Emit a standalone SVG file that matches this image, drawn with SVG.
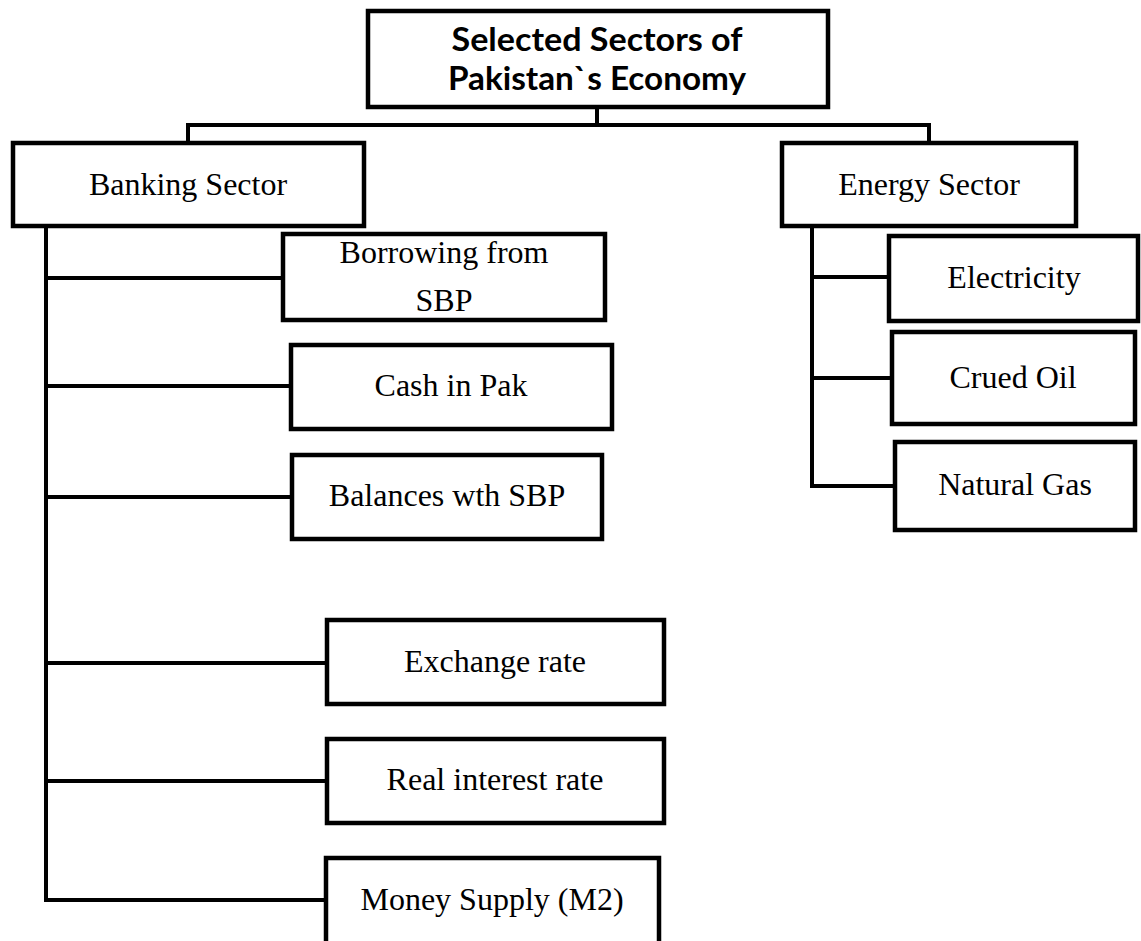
<svg xmlns="http://www.w3.org/2000/svg" width="1141" height="941" viewBox="0 0 1141 941">
<style>
.box{fill:#fff;stroke:#000;stroke-width:4.5}
.ln{fill:none;stroke:#000;stroke-width:4;stroke-linecap:square}
.t{font-family:"Liberation Serif","Times New Roman",serif;font-size:32px;fill:#000;text-anchor:middle}
.h{font-family:Lato,"Open Sans","Liberation Sans",sans-serif;font-weight:bold;font-size:32px;fill:#000;text-anchor:middle}
</style>
<rect width="1141" height="941" fill="#fff"/>
<g id="connectors">
<path class="ln" d="M597,108 V125 M188,125 H929 M188,125 V143 M929,125 V143"/>
<path class="ln" d="M46,227 V900 M46,278 H283 M46,386 H291 M46,497 H292 M46,663 H327 M46,781 H327 M46,900 H326"/>
<path class="ln" d="M812,227 V486 M812,277 H889 M812,378 H892 M812,486 H895"/>
</g>
<g id="root"><rect class="box" x="368" y="11" width="460" height="96"/>
<text class="h" x="597" y="51" textLength="291" lengthAdjust="spacingAndGlyphs">Selected Sectors of</text>
<text class="h" x="597" y="90" textLength="298" lengthAdjust="spacingAndGlyphs">Pakistan`s Economy</text></g>
<g id="banking"><rect class="box" x="13" y="143" width="351" height="83"/><text class="t" x="188" y="195">Banking Sector</text></g>
<g id="energy"><rect class="box" x="782" y="143" width="294" height="83"/><text class="t" x="929" y="195">Energy Sector</text></g>
<g id="borrowing"><rect class="box" x="283" y="234" width="322" height="86"/><text class="t" x="444" y="263">Borrowing from</text><text class="t" x="444" y="311">SBP</text></g>
<g id="cash"><rect class="box" x="291" y="345" width="321" height="84"/><text class="t" x="451" y="396">Cash in Pak</text></g>
<g id="balances"><rect class="box" x="292" y="455" width="310" height="84"/><text class="t" x="447" y="506">Balances wth SBP</text></g>
<g id="exchange"><rect class="box" x="327" y="620" width="337" height="84"/><text class="t" x="495" y="672">Exchange rate</text></g>
<g id="interest"><rect class="box" x="327" y="739" width="337" height="84"/><text class="t" x="495" y="790">Real interest rate</text></g>
<g id="money"><rect class="box" x="326" y="858" width="333" height="90"/><text class="t" x="492" y="910">Money Supply (M2)</text></g>
<g id="electricity"><rect class="box" x="889" y="236" width="249" height="85"/><text class="t" x="1014" y="288">Electricity</text></g>
<g id="oil"><rect class="box" x="892" y="332" width="243" height="92"/><text class="t" x="1013" y="388">Crued Oil</text></g>
<g id="gas"><rect class="box" x="895" y="442" width="240" height="88"/><text class="t" x="1015" y="495">Natural Gas</text></g>
</svg>
